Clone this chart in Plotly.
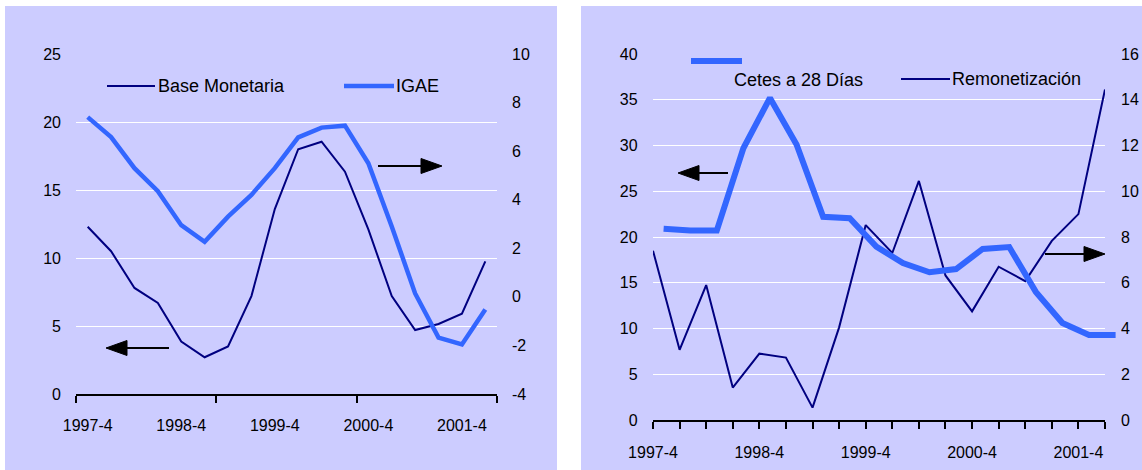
import plotly.graph_objects as go

W, H = 1142, 470

# ---------------- data ----------------
quarters = ["1997-4", "1998-1", "1998-2", "1998-3", "1998-4", "1999-1", "1999-2", "1999-3",
            "1999-4", "2000-1", "2000-2", "2000-3", "2000-4", "2001-1", "2001-2", "2001-3",
            "2001-4", "2002-1"]

# left chart
base_monetaria = [12.3, 10.5, 7.8, 6.7, 3.85, 2.7, 3.5, 7.2, 13.6, 18.0, 18.55, 16.35, 12.1, 7.2, 4.7, 5.15, 5.9, 9.75]
igae = [7.4, 6.58, 5.3, 4.35, 2.95, 2.27, 3.3, 4.2, 5.3, 6.57, 6.97, 7.05, 5.5, 2.9, 0.14, -1.68, -1.96, -0.52]

# right chart
cetes_28 = [20.9, 20.7, 20.7, 29.7, 35.2, 30.1, 22.2, 22.05, 18.95, 17.15, 16.15, 16.5, 18.7, 18.9, 14.0, 10.6, 9.3, 9.3]
remonetizacion = [7.4, 3.07, 5.9, 1.42, 2.9, 2.73, 0.54, 4.05, 8.52, 7.3, 10.45, 6.32, 4.75, 6.7, 6.07, 7.83, 9.0, 14.45]

names_left = ["Base Monetaria", "IGAE"]
names_right = ["Cetes a 28 Días", "Remonetización"]

left_y1_ticks = [0, 5, 10, 15, 20, 25]
left_y2_ticks = [-4, -2, 0, 2, 4, 6, 8, 10]
right_y1_ticks = [0, 5, 10, 15, 20, 25, 30, 35, 40]
right_y2_ticks = [0, 2, 4, 6, 8, 10, 12, 14, 16]
label_step = 4

# ---------------- styling ----------------
NAVY = "#000080"
BLUE = "#3366FF"
LAV = "#CCCCFF"
FONT = dict(family="Liberation Sans, Arial, sans-serif", size=16, color="black")


def px(x):
    return x / W


def py(y):
    return 1 - y / H


idx = list(range(len(quarters)))
lab_idx = idx[::label_step]
lab_txt = [quarters[i] for i in lab_idx]
n = len(quarters)

fig = go.Figure()

# left panel
fig.add_trace(go.Scatter(x=idx, y=base_monetaria, name=names_left[0], mode="lines",
                         line=dict(color=NAVY, width=2), xaxis="x", yaxis="y"))
fig.add_trace(go.Scatter(x=idx, y=igae, name=names_left[1], mode="lines",
                         line=dict(color=BLUE, width=4.5), xaxis="x", yaxis="y2"))
# right panel
fig.add_trace(go.Scatter(x=idx, y=remonetizacion, name=names_right[1], mode="lines",
                         line=dict(color=NAVY, width=2), xaxis="x2", yaxis="y3"))
fig.add_trace(go.Scatter(x=idx, y=cetes_28, name=names_right[0], mode="lines",
                         line=dict(color=BLUE, width=6), xaxis="x3", yaxis="y4"))

common_x = dict(showgrid=False, zeroline=False, showline=True, linecolor="black", linewidth=2,
                tickfont=FONT, fixedrange=True, automargin=False)
common_y = dict(zeroline=False, showline=False, ticks="", tickfont=FONT, fixedrange=True,
                automargin=False)

# left chart plot area (pixels)
LX0, LX1, LYB, LYT = 76, 497, 394, 54
# right chart plot area (pixels)
RX0, RX1, RYB, RYT = 653, 1105, 420, 54
STEP = (RX1 - RX0) / (n - 1)
SHIFT = 10.6      # Cetes series is drawn offset to the right in the original
PAD = 0.3         # extra room so the thick line is not clipped at the ends

fig.update_layout(
    width=W, height=H, margin=dict(l=0, r=0, t=0, b=0, autoexpand=False),
    paper_bgcolor="white", plot_bgcolor="rgba(0,0,0,0)", showlegend=False,
    font=FONT,
    xaxis=dict(common_x, domain=[px(LX0), px(LX1)], range=[-0.5, n - 0.5], anchor="y",
               tickmode="array", tickvals=lab_idx, ticktext=lab_txt,
               ticks="outside", ticklen=0, tickcolor="black", ticklabelstandoff=16,
               minor=dict(tickmode="array", tickvals=[-0.5, 5.5, 11.5, n - 0.5], ticks="outside",
                          ticklen=7, tickwidth=2, tickcolor="black", showgrid=False)),
    yaxis=dict(common_y, domain=[py(LYB), py(LYT)], range=[0, 25], anchor="x",
               tickmode="array", tickvals=left_y1_ticks, showgrid=True, gridcolor="white",
               gridwidth=1, ticklabelstandoff=14),
    yaxis2=dict(common_y, overlaying="y", side="right", range=[-4, 10], anchor="x",
                tickmode="array", tickvals=left_y2_ticks, ticktext=[str(v) for v in left_y2_ticks],
                showgrid=False, ticklabelstandoff=14),
    # right chart: x axis + right-hand axis (carries the grid, which coincides with the left scale)
    xaxis2=dict(common_x, domain=[px(RX0), px(RX1)], range=[0, n - 1], anchor="y3",
                tickmode="array", tickvals=lab_idx, ticktext=lab_txt,
                ticks="outside", ticklen=7, tickwidth=2, tickcolor="black", ticklabelstandoff=10,
                minor=dict(tickmode="linear", tick0=0, dtick=1, ticks="outside", ticklen=7,
                           tickwidth=2, tickcolor="black", showgrid=False)),
    yaxis3=dict(common_y, domain=[py(RYB), py(RYT)], range=[0, 16], anchor="x2", side="right",
                tickmode="array", tickvals=right_y2_ticks, showgrid=True, gridcolor="white",
                gridwidth=1, ticklabelstandoff=15),
    # Cetes: own (shifted) x axis, visible left scale 0-40
    xaxis3=dict(domain=[px(RX0 + SHIFT - PAD * STEP), px(RX1 + SHIFT + PAD * STEP)],
                range=[-PAD, n - 1 + PAD], anchor="y4", visible=False, fixedrange=True,
                automargin=False),
    yaxis4=dict(common_y, domain=[py(RYB), py(RYT)], range=[0, 40], anchor="x3", side="left",
                tickmode="array", tickvals=right_y1_ticks, showgrid=False,
                ticklabelstandoff=round(14 + SHIFT - PAD * STEP)),
)

shapes = []
# panel backgrounds
shapes.append(dict(type="rect", xref="paper", yref="paper", x0=px(5), x1=px(557), y0=0, y1=py(6),
                   fillcolor=LAV, line=dict(width=0), layer="below"))
shapes.append(dict(type="rect", xref="paper", yref="paper", x0=px(581), x1=1, y0=0, y1=py(6),
                   fillcolor=LAV, line=dict(width=0), layer="below"))


def arrow(x_tail, x_head, y):
    d = 1 if x_head > x_tail else -1
    base = x_head - d * 21
    shapes.append(dict(type="line", xref="paper", yref="paper", x0=px(x_tail), x1=px(base),
                       y0=py(y), y1=py(y), line=dict(color="black", width=2)))
    path = "M {} {} L {} {} L {} {} Z".format(px(x_head), py(y), px(base), py(y - 7.5), px(base), py(y + 7.5))
    shapes.append(dict(type="path", xref="paper", yref="paper", path=path,
                       fillcolor="black", line=dict(color="black", width=1)))


arrow(169, 106, 348)
arrow(378, 442, 166)
arrow(728, 678, 173)
arrow(1045, 1105, 254)


def legend_line(x0, x1, y, color, width):
    shapes.append(dict(type="line", xref="paper", yref="paper", x0=px(x0), x1=px(x1),
                       y0=py(y), y1=py(y), line=dict(color=color, width=width)))


legend_line(107, 155, 86, NAVY, 2)
legend_line(344, 394, 86, BLUE, 4.5)
legend_line(691, 742, 61, BLUE, 6)
legend_line(901, 950, 79, NAVY, 2)

fig.update_layout(shapes=shapes)

LEGFONT = dict(family="Liberation Sans, Arial, sans-serif", size=18, color="black")
ann = []
for txt, x, y in [(names_left[0], 156, 86), (names_left[1], 394, 86),
                  (names_right[0], 732, 80), (names_right[1], 950, 79)]:
    ann.append(dict(text=txt, xref="paper", yref="paper", x=px(x), y=py(y), xanchor="left",
                    yanchor="middle", showarrow=False, font=LEGFONT))
fig.update_layout(annotations=ann)

fig.write_html("out.html", config={"displayModeBar": False},
               post_script="document.body.style.margin='0px';document.body.style.overflow='hidden';")
